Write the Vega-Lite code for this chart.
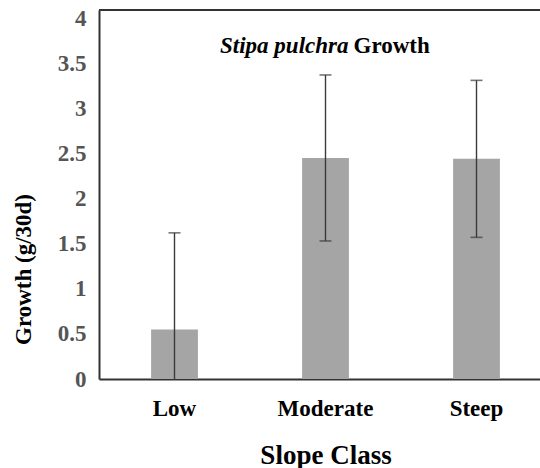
{
  "$schema": "https://vega.github.io/schema/vega-lite/v6.json",
  "width": 442,
  "height": 369,
  "autosize": {"type": "none"},
  "padding": {"left": 99, "top": 10, "right": 0, "bottom": 89},
  "background": "white",
  "config": {
    "font": "Liberation Serif",
    "view": {"stroke": null}
  },
  "data": {
    "values": [
      {"slope": "Low", "growth": 0.55, "lower": -0.52, "upper": 1.62},
      {"slope": "Moderate", "growth": 2.45, "lower": 1.53, "upper": 3.37},
      {"slope": "Steep", "growth": 2.44, "lower": 1.57, "upper": 3.31}
    ]
  },
  "layer": [
    {
      "mark": {"type": "bar", "color": "#a5a5a5"},
      "encoding": {
        "x": {
          "field": "slope",
          "type": "nominal",
          "sort": ["Low", "Moderate", "Steep"],
          "scale": {"domain": ["Low", "Moderate", "Steep"], "range": [0, 453], "paddingInner": 0.69, "paddingOuter": 0.345},
          "axis": {
            "title": "Slope Class",
            "titleFont": "Liberation Serif",
            "titleFontSize": 27,
            "titleFontWeight": "bold",
            "titleColor": "#000000",
            "titlePadding": 22,
            "labelFont": "Liberation Serif",
            "labelFontSize": 23,
            "labelFontWeight": "bold",
            "labelColor": "#000000",
            "labelAngle": 0,
            "labelPadding": 18,
            "ticks": false,
            "domainColor": "#333333",
            "domainWidth": 2,
            "grid": false
          }
        },
        "y": {
          "field": "growth",
          "type": "quantitative",
          "scale": {"domain": [0, 4.09], "clamp": true, "nice": false},
          "axis": {
            "title": "Growth (g/30d)",
            "titleFont": "Liberation Serif",
            "titleFontSize": 23,
            "titleFontWeight": "bold",
            "titleColor": "#000000",
            "titleY": 259,
            "titleX": -64,
            "values": [0, 0.5, 1, 1.5, 2, 2.5, 3, 3.5, 4],
            "format": ".1~f",
            "labelFont": "Liberation Serif",
            "labelFontSize": 23,
            "labelFontWeight": "bold",
            "labelColor": "#555555",
            "labelPadding": 13,
            "ticks": false,
            "domainColor": "#333333",
            "domainWidth": 2,
            "grid": false
          }
        }
      }
    },
    {
      "mark": {"type": "rule", "color": "#3a3a3a", "strokeWidth": 1.4},
      "encoding": {
        "x": {"field": "slope", "type": "nominal"},
        "y": {"field": "lower", "type": "quantitative"},
        "y2": {"field": "upper"}
      }
    },
    {
      "mark": {"type": "tick", "color": "#3a3a3a", "size": 12, "thickness": 1.6},
      "encoding": {
        "x": {"field": "slope", "type": "nominal"},
        "y": {"field": "upper", "type": "quantitative"}
      }
    },
    {
      "transform": [{"filter": "datum.lower > 0"}],
      "mark": {"type": "tick", "color": "#3a3a3a", "size": 12, "thickness": 1.6},
      "encoding": {
        "x": {"field": "slope", "type": "nominal"},
        "y": {"field": "lower", "type": "quantitative"}
      }
    },
    {
      "data": {"values": [{"label": "Stipa pulchra", "pos": "Moderate", "yv": 3.61}]},
      "mark": {"type": "text", "align": "right", "baseline": "alphabetic", "dx": 23, "font": "Liberation Serif", "fontSize": 23, "fontWeight": "bold", "fontStyle": "italic", "color": "#000000"},
      "encoding": {
        "x": {"field": "pos", "type": "nominal"},
        "y": {"field": "yv", "type": "quantitative"},
        "text": {"field": "label"}
      }
    },
    {
      "data": {"values": [{"label": "Growth", "pos": "Moderate", "yv": 3.61}]},
      "mark": {"type": "text", "align": "left", "baseline": "alphabetic", "dx": 28, "font": "Liberation Serif", "fontSize": 23, "fontWeight": "bold", "color": "#000000"},
      "encoding": {
        "x": {"field": "pos", "type": "nominal"},
        "y": {"field": "yv", "type": "quantitative"},
        "text": {"field": "label"}
      }
    },
    {
      "data": {"values": [{"top": 4.09}]},
      "mark": {"type": "rule", "color": "#333333", "strokeWidth": 2},
      "encoding": {
        "y": {"field": "top", "type": "quantitative"}
      }
    }
  ]
}
